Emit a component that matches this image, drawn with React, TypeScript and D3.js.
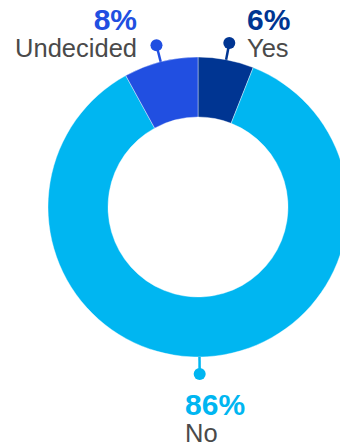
import React from "react";
import * as d3 from "d3";

const categories = ["Yes", "No", "Undecided"];
const values = [6, 86, 8];
const colors = ["#003592", "#00B6F1", "#214FE1"];

const W = 340, H = 447;
const cx = 198, cy = 207, R = 150, r = 90;

export default function App() {
  const pie = d3.pie<number>().sort(null).value((d) => d)(values);
  const arc = d3.arc<d3.PieArcDatum<number>>().innerRadius(r).outerRadius(R);
  const font = "'Liberation Sans', Arial, Helvetica, sans-serif";
  const labelCfg: Record<string, { anchor: string; dx: number; dy: number }> = {
    Yes: { anchor: "start", dx: 247, dy: 30 },
    Undecided: { anchor: "end", dx: 137, dy: 30 },
    No: { anchor: "start", dx: 185, dy: 415 },
  };
  return (
    <svg width={W} height={H} style={{ position: "absolute", left: 0, top: 0 }}>
      <g transform={`translate(${cx},${cy})`}>
        {pie.map((p, i) => (
          <path key={i} d={arc(p) || ""} fill={colors[i]} stroke="#ffffff" strokeWidth={0.4} />
        ))}
        {pie.map((p, i) => {
          const name = categories[i];
          let a = (p.startAngle + p.endAngle) / 2;
          if (name === "No") a = Math.PI - 0.01;
          const x1 = R * Math.sin(a), y1 = -R * Math.cos(a);
          const x2 = (R + 17) * Math.sin(a), y2 = -(R + 17) * Math.cos(a);
          return (
            <g key={"c" + i}>
              <line x1={x1} y1={y1} x2={x2} y2={y2} stroke={colors[i]} strokeWidth={2.5} />
              <circle cx={x2} cy={y2} r={6} fill={colors[i]} />
            </g>
          );
        })}
      </g>
      {categories.map((name, i) => {
        const c = labelCfg[name];
        return (
          <g key={"t" + i} fontFamily={font}>
            <text x={c.dx} y={c.dy} textAnchor={c.anchor} fontSize={30} fontWeight="bold" fill={colors[i]}>
              {values[i]}%
            </text>
            <text x={c.dx} y={c.dy + 27} textAnchor={c.anchor} fontSize={25.5} fill="#4a4a4a">
              {name}
            </text>
          </g>
        );
      })}
    </svg>
  );
}
